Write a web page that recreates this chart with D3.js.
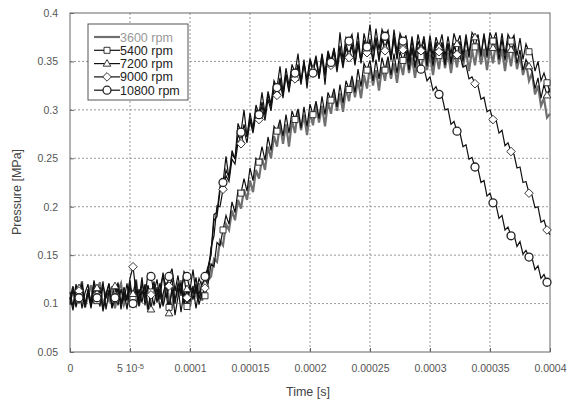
<!DOCTYPE html>
<html>
<head>
<meta charset="utf-8">
<script src="https://cdn.jsdelivr.net/npm/d3@7"></script>
<style>
  body { margin: 0; background: #fff; }
  text { font-family: "Liberation Sans", Arial, sans-serif; }
</style>
</head>
<body>
<div id="chart"></div>
<script>
// pressure traces, kPa, one sample every 2.5 microseconds (0 .. 0.0004 s)
var timeStep = 2.5e-6;

var p3600 = [
  101,117,98,112,123,96,108,119,100,114,
  122,97,110,103,118,95,113,121,99,107,
  116,102,125,98,111,117,94,109,120,103,
  114,99,122,106,95,118,110,124,101,112,
  97,115,108,121,103,113,
  124,128,146,143,165,160,182,176,196,186,
  207,198,218,207,227,215,238,229,250,238,
  262,250,273,262,286,265,285,262,289,276,
  300,279,295,274,297,284,306,287,304,283,
  308,296,318,299,317,298,322,309,331,313,
  331,312,336,322,345,325,341,320,344,330,
  351,332,348,328,350,336,358,338,354,333,
  355,340,361,341,357,336,358,342,364,343,
  359,338,360,344,366,345,362,340,362,346,
  368,347,363,341,364,348,369,347,363,340,
  362,345,365,342,356,336,348,330,338,316,
  325,304,312,292,296
];

var p5400 = [
  107,93,115,104,119,97,111,95,117,103,
  114,92,108,120,96,104,116,99,113,94,
  118,105,97,115,101,120,93,112,98,117,
  95,110,121,96,114,100,118,91,113,97,
  116,104,120,99,111,108,
  120,141,138,163,160,176,191,182,205,194,
  217,214,229,216,240,227,250,246,262,248,
  272,258,283,278,290,273,295,276,299,290,
  301,281,303,283,306,295,309,291,314,295,
  318,310,322,303,326,307,330,321,335,318,
  342,324,348,341,351,330,352,332,354,341,
  355,336,358,338,360,351,362,341,363,343,
  365,355,366,345,366,345,367,356,367,346,
  368,347,369,356,371,350,373,354,376,365,
  378,357,379,358,380,371,380,358,379,357,
  378,371,377,356,374,352,368,360,358,340,
  350,330,338,328,318
];

var p7200 = [
  99,114,102,116,95,111,120,97,109,116,
  101,123,94,112,107,118,98,115,103,121,
  96,110,124,99,113,105,119,94,116,108,
  121,97,111,90,117,88,107,122,99,115,
  102,118,95,113,106,120,
  136,150,186,190,216,220,238,230,254,250,
  274,268,285,272,292,279,300,293,308,294,
  316,303,326,318,333,315,337,320,342,333,
  347,328,349,331,353,342,356,336,358,339,
  361,350,364,343,366,346,368,357,369,348,
  371,350,372,361,373,351,375,353,376,364,
  375,353,377,354,376,366,377,352,376,355,
  378,363,376,354,377,356,375,365,378,355,
  376,357,379,368,377,356,378,358,380,375,
  376,355,377,354,374,364,375,352,373,351,
  372,362,368,348,362,341,352,345,340,322,
  333,312,326,315,322
];

var p9000 = [
  104,118,96,113,121,99,115,102,124,109,
  97,119,106,114,95,108,122,100,117,105,
  126,138,112,104,127,98,118,109,123,101,
  116,130,107,118,125,103,121,113,128,106,
  119,111,127,104,122,116,
  127,158,170,201,200,218,232,226,249,244,
  266,265,279,266,289,276,296,290,304,289,
  311,299,323,315,331,312,336,318,341,332,
  345,326,348,329,351,340,353,332,354,335,
  357,346,360,339,361,343,364,354,367,346,
  368,349,370,359,371,349,372,350,373,361,
  372,351,374,352,373,362,375,351,372,353,
  371,361,372,349,371,350,370,360,370,348,
  369,350,366,357,356,344,346,332,334,327,
  325,311,313,298,300,290,290,276,279,263,
  266,257,254,240,241,225,226,214,212,199,
  200,184,186,176,171
];

var p10800 = [
  112,97,120,106,118,96,113,99,122,106,
  117,95,110,121,98,106,119,94,112,103,
  124,100,115,97,121,108,131,128,112,125,
  104,132,115,128,136,113,129,108,133,128,
  114,135,110,126,118,128,
  138,152,192,194,221,225,252,229,258,249,
  286,277,300,272,297,281,305,295,318,296,
  319,306,330,323,345,318,343,325,347,338,
  358,329,352,322,351,338,354,333,357,326,
  360,349,363,345,380,352,375,371,378,356,
  380,348,379,365,388,360,384,362,383,376,
  382,352,383,360,379,371,374,348,365,347,
  355,342,343,330,334,320,324,316,314,300,
  301,285,288,278,276,262,264,249,251,241,
  239,225,227,211,214,204,202,188,191,176,
  179,170,171,159,164,151,155,148,147,135,
  139,126,130,122,119
];

var seriesNames = ["3600 rpm", "5400 rpm", "7200 rpm", "9000 rpm", "10800 rpm"];

var xTicks = [0, 0.00005, 0.0001, 0.00015, 0.0002, 0.00025, 0.0003, 0.00035, 0.0004];
var xTickLabels = ["0", "5 10^-5", "0.0001", "0.00015", "0.0002", "0.00025", "0.0003", "0.00035", "0.0004"];
var yTicks = [0.05, 0.1, 0.15, 0.2, 0.25, 0.3, 0.35, 0.4];
var yTickLabels = ["0.05", "0.1", "0.15", "0.2", "0.25", "0.3", "0.35", "0.4"];

// ---------------------------------------------------------------
var svgWidth = 567;
var svgHeight = 403;
var margin = { top: 13, right: 17, bottom: 51, left: 70 };
var chartWidth = svgWidth - margin.left - margin.right;
var chartHeight = svgHeight - margin.top - margin.bottom;

var svg = d3.select("#chart").append("svg")
  .attr("width", svgWidth)
  .attr("height", svgHeight);

var chartGroup = svg.append("g")
  .attr("transform", `translate(${margin.left}, ${margin.top})`);

var xScale = d3.scaleLinear().domain([0, 0.0004]).range([0, chartWidth]);
var yScale = d3.scaleLinear().domain([0.05, 0.4]).range([chartHeight, 0]);

// grid
chartGroup.append("g")
  .selectAll("line")
  .data(xTicks.slice(1, -1))
  .enter().append("line")
  .attr("x1", d => xScale(d)).attr("x2", d => xScale(d))
  .attr("y1", 0).attr("y2", chartHeight)
  .attr("stroke", "#999").attr("stroke-dasharray", "2,2");

chartGroup.append("g")
  .selectAll("line")
  .data(yTicks.slice(1, -1))
  .enter().append("line")
  .attr("y1", d => yScale(d)).attr("y2", d => yScale(d))
  .attr("x1", 0).attr("x2", chartWidth)
  .attr("stroke", "#999").attr("stroke-dasharray", "2,2");

// axes
var bottomAxis = d3.axisBottom(xScale).tickValues(xTicks).tickSize(-4).tickPadding(13)
  .tickFormat((d, i) => xTickLabels[i]);
var leftAxis = d3.axisLeft(yScale).tickValues(yTicks).tickSize(-4).tickPadding(12)
  .tickFormat((d, i) => yTickLabels[i]);

var xAxis = chartGroup.append("g")
  .attr("transform", `translate(0, ${chartHeight})`)
  .call(bottomAxis);
var yAxis = chartGroup.append("g").call(leftAxis);

[xAxis, yAxis].forEach(function(ax) {
  ax.select(".domain").remove();
  ax.selectAll("line").attr("stroke", "#666");
  ax.selectAll("text").attr("fill", "#555").attr("font-size", "10.5px")
    .attr("font-family", "'Liberation Sans Narrow', 'Liberation Sans', sans-serif");
});

// superscript label "5 10^-5"
xAxis.selectAll("text").each(function(d, i) {
  var label = xTickLabels[i];
  if (label.indexOf("^") < 0) return;
  var parts = label.split("^");
  var t = d3.select(this).text(null);
  t.append("tspan").text(parts[0]);
  t.append("tspan").attr("dy", "-0.5em").attr("font-size", "7.5px").text(parts[1]);
});

chartGroup.append("rect")
  .attr("width", chartWidth).attr("height", chartHeight)
  .attr("fill", "none").attr("stroke", "#666");

// data
var series = [
  { name: seriesNames[0], values: p3600, color: "#707070", width: 2.2, marker: null, text: "#999" },
  { name: seriesNames[1], values: p5400, color: "#111", width: 1.2, marker: "square", text: "#222" },
  { name: seriesNames[2], values: p7200, color: "#111", width: 1.2, marker: "triangle", text: "#222" },
  { name: seriesNames[3], values: p9000, color: "#111", width: 1.2, marker: "diamond", text: "#222" },
  { name: seriesNames[4], values: p10800, color: "#111", width: 1.2, marker: "circle", text: "#222" }
];

var line = d3.line()
  .x((d, i) => xScale(i * timeStep))
  .y(d => yScale(d / 1000));

var markerPaths = {
  square: "M-3,-3H3V3H-3Z",
  triangle: "M0,-4L3.8,2.6H-3.8Z",
  diamond: "M0,-4.3L4.3,0L0,4.3L-4.3,0Z",
  circle: d3.symbol().type(d3.symbolCircle).size(50)()
};

series.forEach(function(s) {
  chartGroup.append("path")
    .datum(s.values)
    .attr("fill", "none")
    .attr("stroke", s.color)
    .attr("stroke-width", s.width)
    .attr("stroke-linejoin", "miter")
    .attr("d", line);
});

series.forEach(function(s) {
  if (!s.marker) return;
  var pts = s.values.map((v, i) => ({ t: i * timeStep, v: v, i: i }))
    .filter(d => (d.i - 3) % 6 === 0);
  chartGroup.append("g").selectAll("path")
    .data(pts)
    .enter().append("path")
    .attr("transform", d => `translate(${xScale(d.t)}, ${yScale(d.v / 1000)})`)
    .attr("d", markerPaths[s.marker])
    .attr("fill", "#fff")
    .attr("stroke", "#222")
    .attr("stroke-width", s.marker === "circle" ? 1.3 : 0.9);
});

// legend
var legend = svg.append("g").attr("transform", "translate(88, 24)");
legend.append("rect")
  .attr("width", 100).attr("height", 76)
  .attr("fill", "#fff").attr("stroke", "#555");

series.forEach(function(s, i) {
  var y = 13 + i * 13.3;
  legend.append("line")
    .attr("x1", 6).attr("x2", 32).attr("y1", y).attr("y2", y)
    .attr("stroke", s.color).attr("stroke-width", s.width);
  if (s.marker) {
    legend.append("path")
      .attr("transform", `translate(19, ${y})`)
      .attr("d", markerPaths[s.marker])
      .attr("fill", "#fff").attr("stroke", "#222")
      .attr("stroke-width", s.marker === "circle" ? 1.3 : 0.9);
  }
  legend.append("text")
    .attr("x", 32).attr("y", y + 4.5)
    .attr("font-size", "12.5px")
    .attr("fill", s.text)
    .text(s.name);
});

// axis titles
svg.append("text")
  .attr("x", 308).attr("y", 396)
  .attr("text-anchor", "middle").attr("font-size", "12.5px").attr("fill", "#444")
  .text("Time [s]");

svg.append("text")
  .attr("transform", "rotate(-90)")
  .attr("x", -192).attr("y", 21)
  .attr("text-anchor", "middle").attr("font-size", "12.5px").attr("fill", "#444")
  .text("Pressure [MPa]");
</script>
</body>
</html>
